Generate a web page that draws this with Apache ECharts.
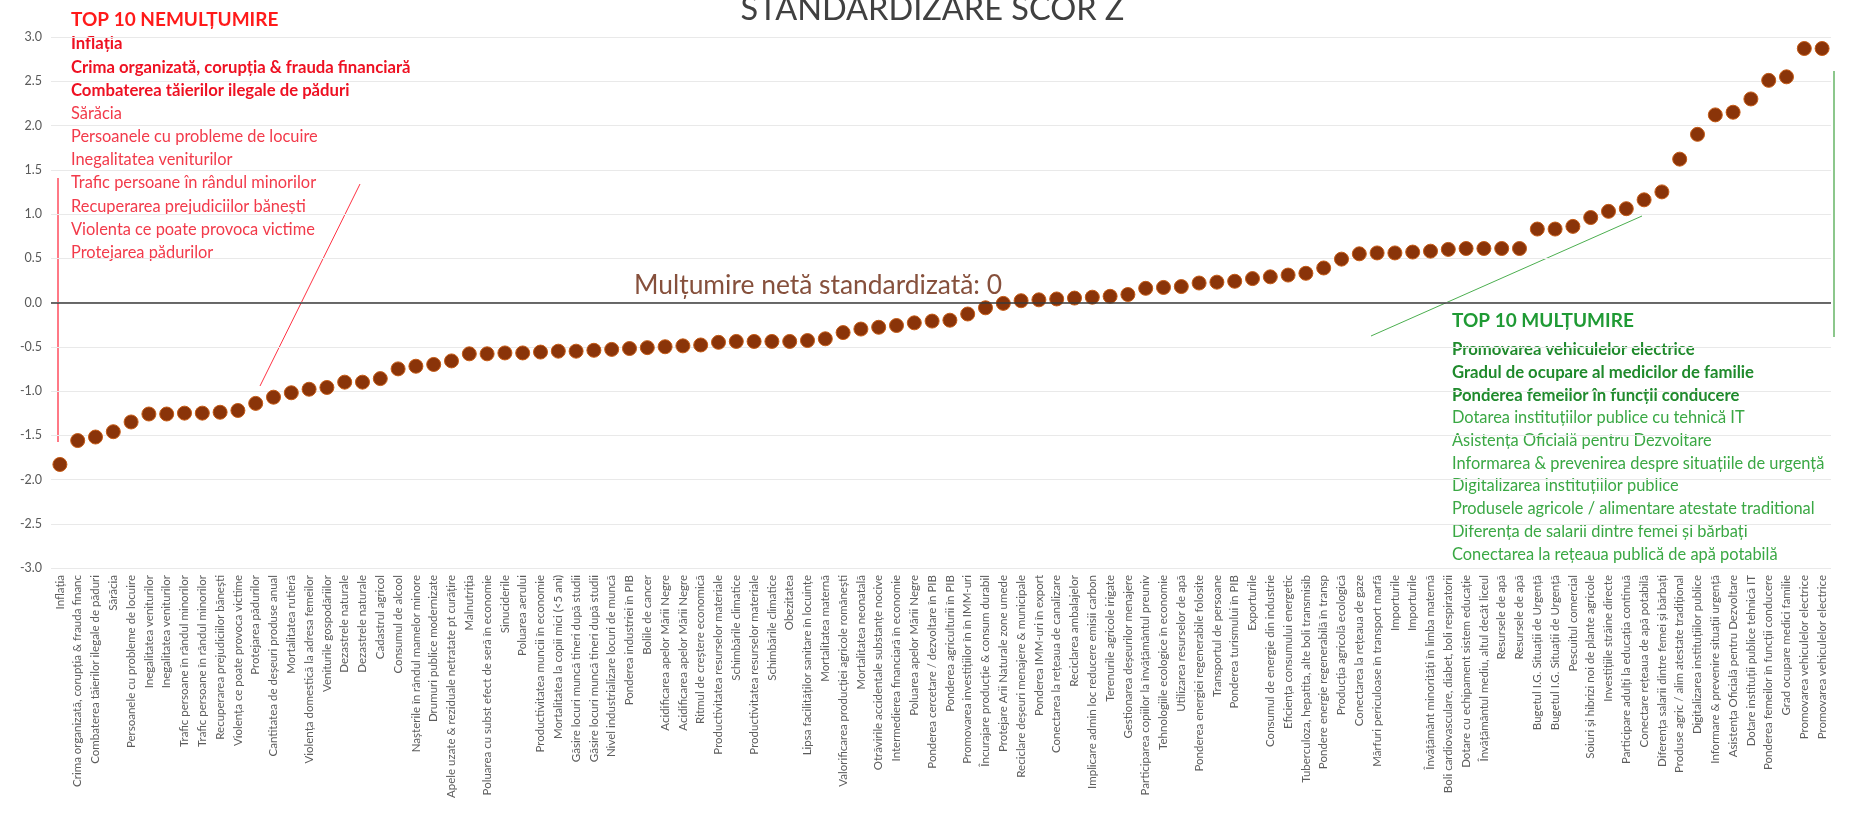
<!DOCTYPE html>
<html>
<head>
<meta charset="UTF-8">
<title>Standardizare scor Z</title>
<script src="https://cdn.jsdelivr.net/npm/echarts@6/dist/echarts.min.js"></script>
<style>
  html, body { margin: 0; padding: 0; background: #fff; }
  #chart { width: 1865px; height: 821px; }
</style>
</head>
<body>
<div id="chart"></div>
<script>
// categorii (ordonate dupa scor)
var categories = [
  'Inflația', 'Crima organizată, corupția & frauda financ', 'Combaterea tăierilor ilegale de păduri', 'Sărăcia',
  'Persoanele cu probleme de locuire', 'Inegalitatea veniturilor', 'Inegalitatea veniturilor',
  'Trafic persoane în rândul minorilor', 'Trafic persoane în rândul minorilor', 'Recuperarea prejudiciilor bănești',
  'Violența ce poate provoca victime', 'Protejarea pădurilor', 'Cantitatea de deșeuri produse anual',
  'Mortalitatea rutieră', 'Violența domestică la adresa femeilor', 'Veniturile gospodăriilor',
  'Dezastrele naturale', 'Dezastrele naturale', 'Cadastrul agricol', 'Consumul de alcool',
  'Nașterile în rândul mamelor minore', 'Drumuri publice modernizate', 'Apele uzate & reziduale netratate pt curățire',
  'Malnutriția', 'Poluarea cu subst efect de seră în economie', 'Sinuciderile', 'Poluarea aerului',
  'Productivitatea muncii în economie', 'Mortalitatea la copii mici (<5 ani)', 'Găsire locuri muncă tineri după studii',
  'Găsire locuri muncă tineri după studii', 'Nivel industrializare locuri de muncă', 'Ponderea industriei în PIB',
  'Bolile de cancer', 'Acidificarea apelor Mării Negre', 'Acidificarea apelor Mării Negre',
  'Ritmul de creștere economică', 'Productivitatea resurselor materiale', 'Schimbările climatice',
  'Productivitatea resurselor materiale', 'Schimbările climatice', 'Obezitatea',
  'Lipsa facilităților sanitare în locuințe', 'Mortalitatea maternă', 'Valorificarea producției agricole românești',
  'Mortalitatea neonatală', 'Otrăvirile accidentale substanțe nocive', 'Intermedierea financiară în economie',
  'Poluarea apelor Mării Negre', 'Ponderea cercetare / dezvoltare în PIB', 'Ponderea agriculturii în PIB',
  'Promovarea investițiilor în în IMM-uri', 'Încurajare producție & consum durabil', 'Protejare Arii Naturale zone umede',
  'Reciclare deșeuri menajere & municipale', 'Ponderea IMM-uri în export', 'Conectarea la rețeaua de canalizare',
  'Reciclarea ambalajelor', 'Implicare admin loc reducere emisii carbon', 'Terenurile agricole irigate',
  'Gestionarea deșeurilor menajere', 'Participarea copiilor la învățământul preuniv', 'Tehnologiile ecologice în economie',
  'Utilizarea resurselor de apă', 'Ponderea energiei regenerabile folosite', 'Transportul de persoane',
  'Ponderea turismului în PIB', 'Exporturile', 'Consumul de energie din industrie', 'Eficiența consumului energetic',
  'Tuberculoza, hepatita, alte boli transmisib', 'Pondere energie regenerabilă în transp', 'Producția agricolă ecologică',
  'Conectarea la rețeaua de gaze', 'Mărfuri periculoase în transport marfă', 'Importurile', 'Importurile',
  'Învățământ minorități în limba maternă', 'Boli cardiovasculare, diabet, boli respiratorii',
  'Dotare cu echipament sistem educație', 'Învățământul mediu, altul decât liceul', 'Resursele de apă',
  'Resursele de apă', 'Bugetul I.G. Situații de Urgență', 'Bugetul I.G. Situații de Urgență', 'Pescuitul comercial',
  'Soiuri și hibrizi noi de plante agricole', 'Investițiile străine directe', 'Participare adulți la educația continuă',
  'Conectare rețeaua de apă potabilă', 'Diferența salarii dintre femei și bărbați', 'Produse agric / alim atestate tradițional',
  'Digitalizarea instituțiilor publice', 'Informare & prevenire situații urgență', 'Asistența Oficială pentru Dezvoltare',
  'Dotare instituții publice tehnică IT', 'Ponderea femeilor în funcții conducere', 'Grad ocupare medici familie',
  'Promovarea vehiculelor electrice', 'Promovarea vehiculelor electrice'
];

// scor Z standardizat
var zScores = [
  -1.83, -1.56, -1.52, -1.46, -1.35, -1.26, -1.26, -1.25, -1.25, -1.24,
  -1.22, -1.14, -1.07, -1.02, -0.98, -0.96, -0.90, -0.90, -0.86, -0.75,
  -0.72, -0.70, -0.66, -0.58, -0.58, -0.57, -0.57, -0.56, -0.55, -0.55,
  -0.54, -0.53, -0.52, -0.51, -0.50, -0.49, -0.48, -0.45, -0.44, -0.44,
  -0.44, -0.44, -0.43, -0.41, -0.34, -0.30, -0.28, -0.26, -0.23, -0.21,
  -0.20, -0.13, -0.06, -0.01, 0.02, 0.03, 0.04, 0.05, 0.06, 0.07,
  0.09, 0.16, 0.17, 0.18, 0.22, 0.23, 0.24, 0.27, 0.29, 0.31,
  0.33, 0.39, 0.49, 0.55, 0.56, 0.56, 0.57, 0.58, 0.60, 0.61,
  0.61, 0.61, 0.61, 0.83, 0.83, 0.86, 0.96, 1.03, 1.06, 1.16,
  1.25, 1.62, 1.90, 2.12, 2.15, 2.30, 2.51, 2.55, 2.87, 2.87
];

var topNemultumire = [
  'Inflația', 'Crima organizată, corupția & frauda financiară', 'Combaterea tăierilor ilegale de păduri',
  'Sărăcia', 'Persoanele cu probleme de locuire', 'Inegalitatea veniturilor', 'Trafic persoane în rândul minorilor',
  'Recuperarea prejudiciilor bănești', 'Violenta ce poate provoca victime', 'Protejarea pădurilor'
];
var topMultumire = [
  'Promovarea vehiculelor electrice', 'Gradul de ocupare al medicilor de familie', 'Ponderea femeilor în funcții conducere',
  'Dotarea instituțiilor publice cu tehnică IT', 'Asistența Oficială pentru Dezvoltare',
  'Informarea & prevenirea despre situațiile de urgență', 'Digitalizarea instituțiilor publice',
  'Produsele agricole / alimentare atestate traditional', 'Diferența de salarii dintre femei și bărbați',
  'Conectarea la rețeaua publică de apă potabilă'
];

var FONT = 'Lato, "Open Sans", sans-serif';

function txt(x, y, text, color, size, weight) {
  return {
    type: 'text', x: x, y: y, silent: true,
    style: {
      text: text, fill: color, fontSize: size, fontWeight: weight || 'normal',
      fontFamily: FONT, verticalAlign: 'middle', align: 'left'
    }
  };
}
function line(x1, y1, x2, y2, color, w) {
  return {
    type: 'line', silent: true,
    shape: { x1: x1, y1: y1, x2: x2, y2: y2 },
    style: { stroke: color, lineWidth: w }
  };
}

var graphics = [];
graphics.push(txt(71, 20, 'TOP 10 NEMULȚUMIRE', '#ff1a1a', 19, 'bold'));
topNemultumire.forEach(function (t, i) {
  graphics.push(txt(71, 44 + i * 23.2, t, i < 3 ? '#ee1122' : '#f23a4a', i < 3 ? 16.7 : 16.4, i < 3 ? 'bold' : 'normal'));
});
graphics.push(txt(1452, 321, 'TOP 10 MULȚUMIRE', '#1f9a34', 19, 'bold'));
topMultumire.forEach(function (t, i) {
  graphics.push(txt(1452, 350 + i * 22.7, t, i < 3 ? '#1f8a2c' : '#3aa844', i < 3 ? 16.7 : 16.4, i < 3 ? 'bold' : 'normal'));
});
graphics.push({
  type: 'text', x: 818, y: 285, silent: true,
  style: { text: 'Mulțumire netă standardizată: 0', fill: '#86503c', fontSize: 26.4, fontFamily: FONT,
           align: 'center', verticalAlign: 'middle' }
});
// linii de legatura
graphics.push(line(58, 178, 58, 442, '#ff4d5e', 1.5));
graphics.push(line(360, 184, 260, 386, '#ff3344', 1));
graphics.push(line(1371, 336, 1642, 216, '#4caf50', 1));
graphics.push(line(1834, 71, 1834, 337, '#66b466', 1.5));

var chart = echarts.init(document.getElementById('chart'));
var option = {
  backgroundColor: '#fff',
  animation: false,
  title: {
    text: 'STANDARDIZARE SCOR Z',
    left: 'center',
    top: -12,
    textStyle: { fontSize: 32.5, fontWeight: 'normal', color: '#404040', fontFamily: FONT }
  },
  grid: { left: 51, right: 34, top: 37, bottom: 253 },
  xAxis: {
    type: 'category',
    data: categories,
    boundaryGap: true,
    axisLine: { show: false },
    axisTick: { show: false },
    axisLabel: {
      interval: 0, rotate: 90, fontSize: 11.5, color: '#5c5c5c', fontFamily: FONT, margin: 7
    },
    splitLine: { show: false }
  },
  yAxis: {
    type: 'value',
    min: -3, max: 3, interval: 0.5,
    axisLine: { show: false },
    axisTick: { show: false },
    axisLabel: {
      color: '#595959', fontSize: 12.5, fontFamily: FONT, margin: 9,
      formatter: function (v) { return v.toFixed(1); }
    },
    splitLine: { lineStyle: { color: '#e9e9e9', width: 1 } }
  },
  series: [{
    type: 'scatter',
    data: zScores,
    symbol: 'circle',
    symbolSize: 14,
    itemStyle: { color: '#8a3409', borderColor: '#c65a14', borderWidth: 1, opacity: 1 },
    markLine: {
      silent: true,
      symbol: 'none',
      label: { show: false },
      lineStyle: { color: '#3a3a3a', width: 1.5, type: 'solid' },
      data: [{ yAxis: 0 }]
    },
    z: 3
  }],
  graphic: graphics
};
chart.setOption(option);
</script>
</body>
</html>
